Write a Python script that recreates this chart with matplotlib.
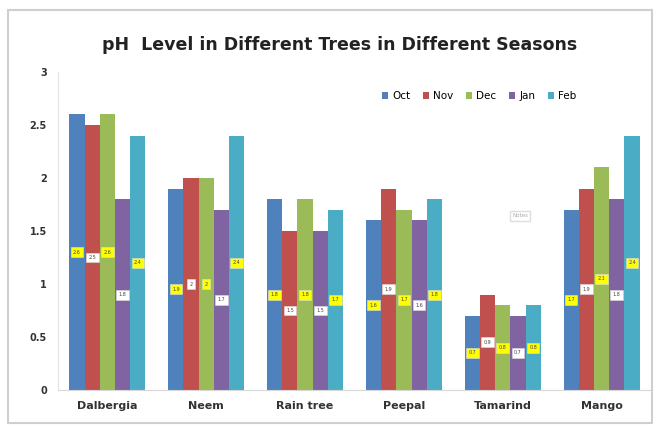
import numpy as np
import matplotlib.pyplot as plt
from matplotlib.patches import Rectangle

trees = ['Dalbergia', 'Neem', 'Rain tree', 'Peepal', 'Tamarind', 'Mango']
months = ['Oct', 'Nov', 'Dec', 'Jan', 'Feb']
oct_ph = [2.6, 1.9, 1.8, 1.6, 0.7, 1.7]
nov_ph = [2.5, 2.0, 1.5, 1.9, 0.9, 1.9]
dec_ph = [2.6, 2.0, 1.8, 1.7, 0.8, 2.1]
jan_ph = [1.8, 1.7, 1.5, 1.6, 0.7, 1.8]
feb_ph = [2.4, 2.4, 1.7, 1.8, 0.8, 2.4]
yticks = [0, 0.5, 1, 1.5, 2, 2.5, 3]

series = [oct_ph, nov_ph, dec_ph, jan_ph, feb_ph]
colors = ['#4F81BD', '#C0504D', '#9BBB59', '#8064A2', '#4BACC6']
label_bg = ['#FFFF00', 'white', '#FFFF00', 'white', '#FFFF00']

fig = plt.figure(figsize=(6.6, 4.28), dpi=100)
# outer chart frame
fig.patches.append(Rectangle((8 / 660, 1 - 423 / 428), 644 / 660, 413 / 428,
                             transform=fig.transFigure, fill=False,
                             edgecolor='#cfcfcf', linewidth=1.5))

ax = fig.add_axes([58 / 660, 38 / 428, 593 / 660, 318 / 428])

x = np.arange(len(trees))
w = 0.154
for i, (vals, c) in enumerate(zip(series, colors)):
    pos = x + (i - 2) * w
    ax.bar(pos, vals, width=w, color=c, label=months[i], zorder=2)
    for p, v in zip(pos, vals):
        ax.text(p, v / 2, f'{v:g}', ha='center', va='center', fontsize=3.5,
                color='#444444', zorder=3,
                bbox=dict(boxstyle='square,pad=0.5', facecolor=label_bg[i],
                          edgecolor='#dddddd', linewidth=0.4))

ax.set_xlim(-0.5, 5.5)
ax.set_ylim(0, 3)
ax.set_yticks(yticks)
ax.set_yticklabels([f'{t:g}' for t in yticks], fontsize=7, fontweight='bold',
                   color='#333333')
ax.set_xticks(x)
ax.set_xticklabels(trees, fontsize=8, fontweight='bold', color='#333333')
ax.tick_params(axis='both', length=0, pad=8)
for s in ['top', 'right']:
    ax.spines[s].set_visible(False)
ax.spines['left'].set_color('#e3e3e3')
ax.spines['bottom'].set_color('#d8d8d8')

ax.legend(loc='upper right', bbox_to_anchor=(0.89, 0.97), ncol=5, frameon=False,
          fontsize=7.5, handlelength=0.6, handleheight=0.6, columnspacing=1.2,
          handletextpad=0.4)

fig.text(0.515, 1 - 45 / 428, 'pH  Level in Different Trees in Different Seasons',
         ha='center', va='center', fontsize=12.5, fontweight='bold', color='#222222')

fig.text(520 / 660, 1 - 216 / 428, 'Notes', ha='center', va='center', fontsize=4,
         color='#aaaaaa', bbox=dict(facecolor='white', edgecolor='#dddddd', pad=1.5))

fig.savefig('out.png', dpi=100)
